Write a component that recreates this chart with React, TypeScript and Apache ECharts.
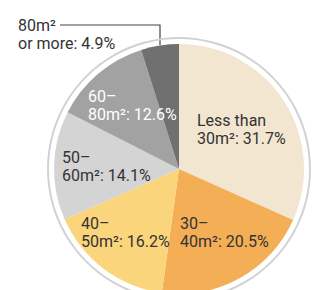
import React, { useEffect, useRef } from "react";
import * as echarts from "echarts";

const categories = ["Less than\n30m²", "30–\n40m²", "40–\n50m²", "50–\n60m²", "60–\n80m²", "80m²\nor more"];
const shares = [31.7, 20.5, 16.2, 14.1, 12.6, 4.9];
const colors = ["#f3e6d0", "#f4ae55", "#fbd57b", "#d4d4d4", "#a2a2a2", "#707070"];
const labelColors = ["#333", "#333", "#333", "#333", "#ffffff", "#333"];
// label top-left anchors (layout only)
const labelPos: [number, number][] = [
  [197, 111],
  [180, 214],
  [81, 214],
  [62, 148],
  [88, 87],
  [18, 16],
];

export default function App() {
  const ref = useRef<HTMLDivElement>(null);
  useEffect(() => {
    const chart = echarts.init(ref.current!, null, { renderer: "svg" });
    chart.setOption({
      animation: false,
      backgroundColor: "#ffffff",
      textStyle: { fontFamily: "Roboto" },
      graphic: [
        {
          type: "polyline",
          shape: { points: [[60, 25], [160, 25], [160, 45]] },
          style: { stroke: "#444", lineWidth: 1.2, fill: "none" },
          silent: true,
        },
      ],
      series: [
        {
          type: "pie",
          center: [179, 169],
          radius: [130, 132],
          silent: true,
          label: { show: false },
          labelLine: { show: false },
          data: [{ value: 1, itemStyle: { color: "#d2d2d2" } }],
        },
        {
          type: "pie",
          center: [179, 169],
          radius: [0, 125],
          startAngle: 90,
          clockwise: true,
          silent: true,
          itemStyle: { borderWidth: 0 },
          labelLine: { show: false },
          data: categories.map((c, i) => ({
            name: c,
            value: shares[i],
            itemStyle: { color: colors[i] },
            label: {
              show: true,
              position: "inside",
              formatter: `${c}: ${shares[i].toFixed(1)}%`,
              color: labelColors[i],
              fontSize: 16,
              lineHeight: 18,
              fontFamily: "Roboto",
              align: "left",
            },
          })),
          labelLayout: (p: any) => ({
            x: labelPos[p.dataIndex][0],
            y: labelPos[p.dataIndex][1],
            align: "left",
            verticalAlign: "top",
          }),
        },
      ],
    });
    return () => chart.dispose();
  }, []);
  return (
    <div
      ref={ref}
      style={{ position: "fixed", left: 0, top: 0, width: 312, height: 290 }}
    />
  );
}
